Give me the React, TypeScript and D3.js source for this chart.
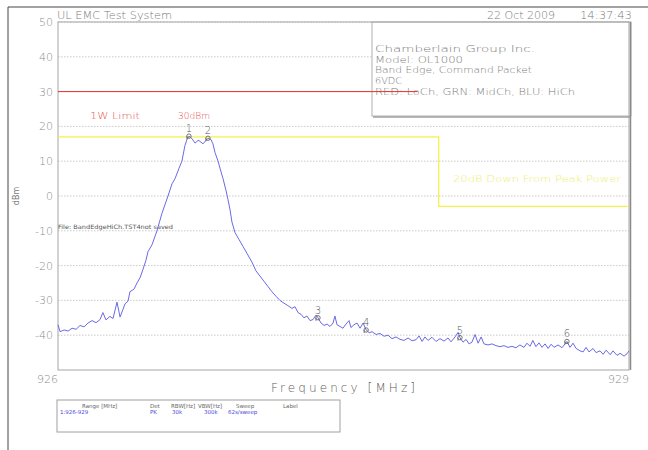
import React from "react";
import * as d3 from "d3";

// ---- data ----
const freqs: number[] = [
  926.0, 926.011, 926.032, 926.053, 926.074, 926.095, 926.116, 926.137, 926.158, 926.179,
  926.2, 926.221, 926.236, 926.252, 926.273, 926.289, 926.31, 926.326, 926.342, 926.352,
  926.368, 926.378, 926.399, 926.415, 926.431, 926.447, 926.462, 926.473, 926.494, 926.52,
  926.546, 926.578, 926.599, 926.615, 926.636, 926.651, 926.667, 926.678, 926.688, 926.704,
  926.72, 926.736, 926.746, 926.762, 926.778, 926.788, 926.804, 926.814, 926.825, 926.841,
  926.851, 926.867, 926.883, 926.893, 926.904, 926.914, 926.93, 926.951, 926.972, 926.993,
  927.019, 927.04, 927.061, 927.082, 927.103, 927.124, 927.145, 927.166, 927.187, 927.208,
  927.229, 927.245, 927.261, 927.277, 927.292, 927.308, 927.324, 927.34, 927.356, 927.366,
  927.382, 927.398, 927.414, 927.429, 927.445, 927.455, 927.466, 927.482, 927.497, 927.513,
  927.529, 927.539, 927.555, 927.571, 927.587, 927.603, 927.619, 927.635, 927.65, 927.671,
  927.692, 927.713, 927.734, 927.755, 927.776, 927.797, 927.818, 927.839, 927.86, 927.881,
  927.897, 927.913, 927.928, 927.944, 927.965, 927.986, 928.007, 928.028, 928.049, 928.065,
  928.086, 928.102, 928.112, 928.128, 928.144, 928.16, 928.175, 928.191, 928.207, 928.223,
  928.238, 928.259, 928.28, 928.301, 928.322, 928.343, 928.364, 928.385, 928.406, 928.427,
  928.448, 928.464, 928.48, 928.495, 928.511, 928.527, 928.543, 928.559, 928.575, 928.591,
  928.606, 928.627, 928.648, 928.664, 928.674, 928.69, 928.706, 928.722, 928.743, 928.759,
  928.774, 928.79, 928.811, 928.827, 928.848, 928.864, 928.88, 928.901, 928.916, 928.937,
  928.953, 928.974, 928.99, 929.0,
];
const levels: number[] = [
  -37, -39, -38.5, -38.8, -38, -38.3, -37.2, -37.6, -36.5, -35.8,
  -36.4, -35.5, -33.5, -35.6, -34.6, -35.2, -30.5, -34.8, -32.5, -31,
  -30.2, -27.5, -26.8, -25, -23.5, -21, -18.5, -16, -14, -10,
  -5, 0, 3.5, 5, 8, 10, 14.5, 16.3, 17.2, 16.5,
  15.2, 16, 15.7, 15, 16, 16.6, 16.2, 15, 12.5, 10,
  8, 5, 1.5, -1, -4, -7.5, -10.5, -12.5, -14.5, -16.5,
  -19, -21.5, -23, -24.5, -26, -27.5, -28.8, -30, -30.8, -31.5,
  -32.3, -31.8, -33.5, -34, -35, -34.5, -35.8, -35.5, -34.2, -35,
  -36.5, -37.2, -36.8, -37.5, -36.5, -34.5, -37, -37.5, -38, -36.8,
  -35.8, -37.8, -37, -36.5, -38, -36.5, -38.5, -39.3, -39, -39.8,
  -39.5, -40.3, -40, -41, -40.5, -41.2, -41.5, -40.8, -41.6, -41.3,
  -40.2, -41.8, -40.5, -41.5, -40.6, -41.8, -41, -41.7, -40.8, -41.9,
  -40.5, -39.2, -40.7, -42, -41.2, -42.5, -42, -39.8, -42.3, -40.5,
  -42.5, -42.8, -42.5, -43, -43.3, -43, -43.5, -43.2, -43.6, -42.8,
  -43.5, -42.3, -43.2, -41.5, -43.3, -42.2, -43.5, -42.5, -43.8, -42.6,
  -43.5, -42.8, -43.6, -42.5, -41.8, -43.5, -42.3, -43.8, -44.5, -44.8,
  -43.5, -44.8, -43.8, -45, -44.5, -45.5, -44.3, -45.6, -44.5, -45.8,
  -45.2, -46, -45.3, -44.5,
];

const markerLabels = ["1", "2", "3", "4", "5", "6"];
const markerFreqs = [926.688, 926.788, 927.366, 927.619, 928.112, 928.674];
const markerLevels = [17.2, 16.6, -35, -38.5, -40.7, -41.8];

const yTicks = [50, 40, 30, 20, 10, 0, -10, -20, -30, -40];
const xTickLabels = ["926", "929"];
const xTicks = [926, 929];

const limitLevel = 30;
const limitEndFreq = 927.89;
const peakLine = 17;
const downLine = -3;
const stepFreq = 928.0;

const infoLines = [
  "Chamberlain Group Inc.",
  "Model: OL1000",
  "Band Edge, Command Packet",
  "6VDC",
  "RED: LoCh, GRN: MidCh, BLU: HiCh",
];
const infoWidths = [160, 88, 157, 27, 200];

const tableHeaders = ["Range [MHz]", "Det", "RBW[Hz]", "VBW[Hz]", "Sweep", "Label"];
const tableRow = ["1:926-929", "PK", "30k", "300k", "62s/sweep", ""];

export default function App() {
  const W = 648, H = 450;
  const x = d3.scaleLinear().domain([926, 929]).range([58, 629]);
  const y = d3.scaleLinear().domain([-50, 50]).range([370, 22]);
  const line = d3
    .line<number>()
    .x((_, i) => x(freqs[i]))
    .y((d) => y(d));
  const font = "'DejaVu Sans', sans-serif";
  const gray = "#7a7a7a";

  const headerX = [82, 150, 171, 198, 236, 283];
  const rowX = [60, 150, 172, 204, 228, 283];

  return (
    <svg
      width={W}
      height={H}
      style={{ position: "absolute", left: 0, top: 0, background: "#fff" }}
      fontFamily={font}
    >
      <rect x={0} y={0} width={W} height={H} fill="#fff" />
      {/* outer frame */}
      <line x1={8} y1={7} x2={W} y2={7} stroke="#444" strokeWidth={1} />
      <line x1={8} y1={7} x2={8} y2={H} stroke="#444" strokeWidth={1} />

      {/* header */}
      <text x={57} y={19} fontSize={10} fontWeight={300} fill={gray} textLength={115} lengthAdjust="spacingAndGlyphs">
        UL EMC Test System
      </text>
      <text x={487} y={19} fontSize={10} fontWeight={300} fill={gray} textLength={68} lengthAdjust="spacingAndGlyphs">
        22 Oct 2009
      </text>
      <text x={580} y={19} fontSize={10} fontWeight={300} fill={gray} textLength={52} lengthAdjust="spacingAndGlyphs">
        14:37:43
      </text>

      {/* gridlines */}
      {yTicks.map((t) => (
        <line
          key={"g" + t}
          x1={x(926)}
          x2={x(929)}
          y1={y(t)}
          y2={y(t)}
          stroke="#bcbcbc"
          strokeWidth={0.8}
          strokeDasharray="1.5,1.5"
        />
      ))}

      {/* info box */}
      <rect x={372} y={y(50)} width={x(929) - 372 + 2} height={94} fill="#fff" stroke="#b0b0b0" strokeWidth={1} />
      <line x1={373} y1={y(50) + 95} x2={x(929) + 2} y2={y(50) + 95} stroke="#a0a0a0" strokeWidth={1.5} />
      {infoLines.map((s, i) => (
        <text
          key={s}
          x={375}
          y={52 + i * 10.7}
          fontSize={9.5}
          fontWeight={200}
          fill={gray}
          textLength={infoWidths[i]}
          lengthAdjust="spacingAndGlyphs"
        >
          {s}
        </text>
      ))}

      {/* plot frame */}
      <rect x={x(926)} y={y(50)} width={x(929) - x(926)} height={y(-50) - y(50)} fill="none" stroke="#a5a5a5" strokeWidth={1} />
      <line x1={x(929) + 1.5} y1={y(50)} x2={x(929) + 1.5} y2={y(-50)} stroke="#8a8a8a" strokeWidth={1.5} />

      {/* y tick labels */}
      {yTicks.map((t) => (
        <text key={"t" + t} x={53} y={y(t) + 4} fontSize={11} fontWeight={300} fill="#8a8a8a" textAnchor="end">
          {t}
        </text>
      ))}
      <text x={19} y={196} fontSize={8} fill={gray} textAnchor="middle" transform="rotate(-90 19 196)">
        dBm
      </text>

      {/* x tick labels */}
      {xTicks.map((t, i) => (
        <text key={"x" + t} x={x(t)} y={383} fontSize={11} fontWeight={300} fill="#8a8a8a" textAnchor="end">
          {xTickLabels[i]}
        </text>
      ))}
      <text x={271} y={392} fontSize={12} fontWeight={300} fill="#5a5a5a" textLength={144} lengthAdjust="spacing">
        Frequency [MHz]
      </text>

      {/* red limit */}
      <line x1={x(926)} x2={x(limitEndFreq)} y1={y(limitLevel)} y2={y(limitLevel)} stroke="#e83030" strokeWidth={1} />
      <text x={90} y={119} fontSize={9.5} fontWeight={300} fill="#e85050" textLength={50} lengthAdjust="spacingAndGlyphs">
        1W Limit
      </text>
      <text x={178} y={119} fontSize={9.5} fontWeight={300} fill="#e85050" textLength={32} lengthAdjust="spacingAndGlyphs">
        30dBm
      </text>

      {/* yellow lines */}
      <path
        d={`M${x(926)},${y(peakLine)}H${x(stepFreq)}V${y(downLine)}H${x(929)}`}
        fill="none"
        stroke="#f2f24a"
        strokeWidth={1.3}
      />
      <text x={453} y={182} fontSize={9} fontWeight={300} fill="#eeee70" textLength={168} lengthAdjust="spacingAndGlyphs">
        20dB Down From Peak Power
      </text>

      {/* file label */}
      <text x={58} y={229} fontSize={6} fill="#555" textLength={115} lengthAdjust="spacingAndGlyphs">
        File: BandEdgeHiCh.TST4not saved
      </text>

      {/* trace */}
      <path d={line(levels) || ""} fill="none" stroke="#6a6ae6" strokeWidth={1} />

      {/* markers */}
      {markerLabels.map((m, i) => {
        const mx = x(markerFreqs[i]);
        const my = y(markerLevels[i]);
        return (
          <g key={"m" + m}>
            <circle cx={mx} cy={my} r={2.2} fill="none" stroke="#666" strokeWidth={0.9} />
            <line x1={mx - 2} y1={my} x2={mx - 2} y2={my + 3} stroke="#666" strokeWidth={0.9} />
            <text x={mx} y={my - 4} fontSize={10} fontWeight={300} fill="#555" textAnchor="middle">
              {m}
            </text>
          </g>
        );
      })}

      {/* bottom table */}
      <rect x={57} y={400} width={283} height={32} fill="#fff" stroke="#a0a0a0" strokeWidth={1} />
      {tableHeaders.map((h, i) => (
        <text key={"h" + h} x={headerX[i]} y={408} fontSize={5.5} fill="#666">
          {h}
        </text>
      ))}
      {tableRow.map((r, i) => (
        <text key={"r" + i} x={rowX[i]} y={414} fontSize={5.5} fill="#4a4ae0">
          {r}
        </text>
      ))}
    </svg>
  );
}
